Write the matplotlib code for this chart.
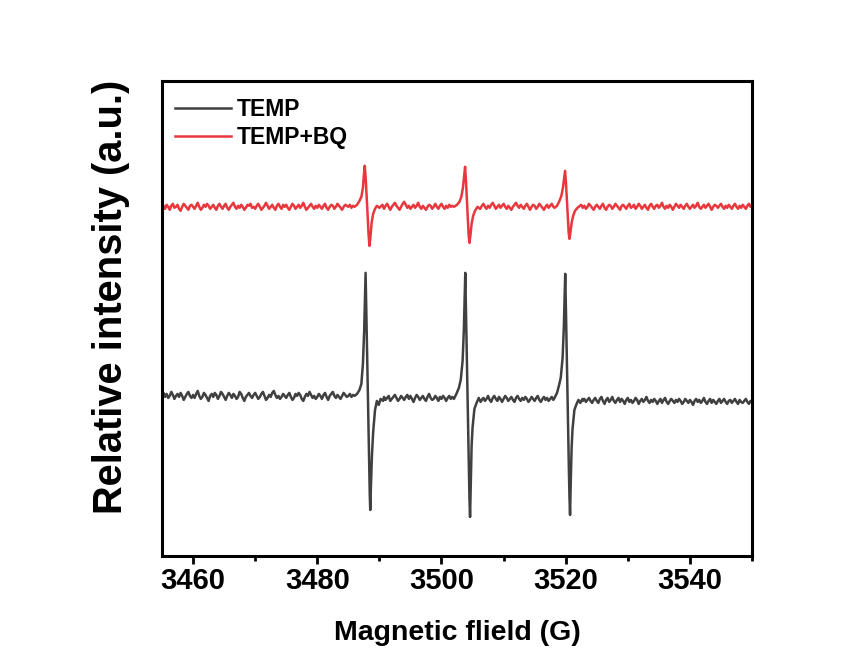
import numpy as np
import matplotlib.pyplot as plt
from matplotlib.ticker import MultipleLocator

plt.rcParams["font.family"] = "Liberation Sans"
plt.rcParams["font.weight"] = "bold"

# field axis of the baseline traces: one reading every 0.25 G, 3455 .. 3550 G
field_start = 3455.0
field_step = 0.25

# TEMP baseline readings (a.u.), 20 per row = 5 G per row
temp_base = [
    161, 163, 159, 162, 158, 160, 164, 161, 157, 160, 162, 159, 163, 160, 156, 159, 162, 164, 160, 158,
    161, 158, 162, 165, 160, 157, 159, 163, 161, 158, 155, 160, 162, 159, 163, 161, 157, 160, 164, 162,
    159, 156, 160, 163, 161, 158, 162, 160, 157, 159, 164, 162, 158, 155, 159, 161, 163, 160, 158, 161,
    163, 160, 157, 159, 162, 164, 160, 156, 158, 161, 159, 163, 165, 161, 158, 160, 157, 159, 162, 160,
    158, 161, 163, 159, 156, 158, 162, 160, 163, 161, 157, 155, 159, 162, 160, 164, 161, 158, 160, 157,
    159, 162, 160, 157, 161, 163, 159, 156, 160, 162, 164, 160, 158, 161, 159, 157, 160, 163, 161, 159,
    160, 162, 159, 161, 160, 160, 160, 160, 160, 160, 160, 160, 160, 160, 160, 160, 160, 160, 160, 160,
    157, 157, 157, 159, 156, 158, 160, 155, 157, 159, 161, 158, 155, 157, 160, 158, 156, 159, 161, 157,
    160, 157, 154, 158, 161, 159, 156, 158, 160, 157, 155, 159, 162, 158, 156, 157, 160, 158, 155, 159,
    157, 160, 158, 155, 158, 160, 157, 159, 157, 157, 157, 157, 157, 157, 157, 157, 157, 157, 157, 157,
    157, 157, 157, 157, 157, 157, 157, 158, 155, 157, 160, 156, 154, 158, 160, 157, 155, 159, 157, 154,
    157, 160, 158, 155, 157, 159, 156, 154, 158, 160, 157, 155, 158, 156, 159, 157, 154, 156, 159, 157,
    155, 158, 160, 156, 154, 157, 159, 156, 158, 155, 157, 159, 156, 157, 157, 157, 157, 157, 157, 157,
    157, 157, 157, 157, 157, 157, 157, 157, 157, 157, 157, 155, 157, 154, 156, 158, 155, 153, 156, 158,
    155, 153, 157, 159, 155, 152, 156, 158, 154, 156, 159, 155, 153, 156, 158, 154, 157, 155, 152, 156,
    158, 154, 156, 153, 155, 158, 156, 152, 155, 157, 154, 156, 159, 155, 153, 156, 154, 157, 155, 152,
    155, 157, 153, 156, 158, 154, 152, 155, 157, 155, 153, 156, 154, 157, 155, 152, 154, 157, 155, 153,
    156, 154, 151, 155, 157, 154, 156, 153, 155, 158, 154, 152, 155, 157, 153, 156, 154, 152, 155, 157,
    153, 155, 157, 154, 152, 155, 156, 153, 155, 157, 154, 152, 156, 154, 153, 155, 157, 154, 152, 155,
    154,
]

# TEMP+BQ baseline readings (a.u.)
temp_bq_base = [
    348, 350, 347, 351, 349, 346, 350, 352, 348, 349, 351, 347, 345, 349, 352, 350, 348, 346, 350, 351,
    349, 347, 350, 353, 349, 346, 348, 351, 349, 352, 350, 347, 349, 351, 348, 346, 350, 352, 349, 347,
    350, 352, 348, 346, 349, 351, 353, 349, 347, 350, 348, 351, 349, 346, 348, 351, 350, 352, 348, 349,
    347, 350, 352, 349, 346, 348, 350, 353, 350, 347, 349, 351, 348, 346, 350, 352, 349, 347, 351, 349,
    351, 348, 346, 349, 352, 350, 347, 349, 351, 348, 350, 353, 349, 346, 348, 350, 352, 349, 347, 350,
    348, 351, 349, 347, 350, 352, 348, 346, 349, 351, 350, 347, 349, 352, 350, 348, 346, 349, 351, 350,
    349, 351, 348, 350, 349, 349, 349, 349, 349, 349, 349, 349, 349, 349, 349, 349, 349, 349, 349, 349,
    349, 349, 349, 347, 350, 352, 349, 346, 349, 351, 353, 350, 348, 346, 349, 352, 354, 351, 348, 350,
    347, 349, 351, 348, 350, 353, 349, 347, 350, 348, 346, 349, 351, 350, 347, 349, 352, 349, 347, 350,
    352, 349, 347, 350, 348, 351, 349, 350, 349, 349, 349, 349, 349, 349, 349, 349, 349, 349, 349, 349,
    349, 349, 349, 349, 349, 347, 350, 352, 349, 347, 350, 348, 351, 353, 350, 347, 349, 351, 348, 350,
    352, 349, 347, 350, 348, 346, 349, 351, 353, 350, 348, 351, 349, 347, 350, 352, 349, 346, 349, 351,
    350, 347, 349, 352, 350, 348, 346, 349, 351, 348, 350, 352, 349, 349, 349, 349, 349, 349, 349, 349,
    349, 349, 349, 349, 349, 349, 349, 349, 349, 349, 351, 348, 350, 347, 349, 352, 350, 348, 346, 349,
    351, 349, 347, 350, 352, 348, 346, 349, 351, 350, 347, 349, 352, 350, 348, 346, 350, 351, 349, 347,
    350, 352, 348, 349, 351, 347, 349, 352, 350, 347, 349, 351, 348, 346, 350, 352, 349, 347, 350, 351,
    348, 350, 353, 349, 347, 350, 348, 351, 349, 346, 349, 352, 350, 348, 351, 349, 347, 350, 352, 349,
    347, 349, 351, 348, 350, 353, 349, 347, 349, 351, 348, 350, 352, 349, 346, 349, 351, 350, 348, 350,
    352, 349, 347, 350, 348, 351, 349, 347, 350, 352, 349, 347, 350, 348, 351, 349, 347, 350, 352, 349,
    350,
]

# the three hyperfine lines, traced more finely (G, a.u.)
temp_peak_x = [
    [3486.0, 3486.4, 3486.8, 3487.1, 3487.35, 3487.55, 3487.7, 3487.78, 3487.9, 3488.05,
     3488.2, 3488.35, 3488.45, 3488.53, 3488.65, 3488.8, 3489.0, 3489.3, 3489.6, 3489.9,
     3490.2, 3490.6],
    [3502.0, 3502.4, 3502.8, 3503.1, 3503.4, 3503.6, 3503.75, 3503.83, 3503.95, 3504.1,
     3504.25, 3504.4, 3504.5, 3504.6, 3504.72, 3504.85, 3505.0, 3505.3, 3505.65, 3506.0,
     3506.3, 3506.6],
    [3518.2, 3518.6, 3518.9, 3519.2, 3519.5, 3519.7, 3519.84, 3519.92, 3520.05, 3520.2,
     3520.35, 3520.5, 3520.6, 3520.7, 3520.82, 3520.95, 3521.1, 3521.4, 3521.75, 3522.05,
     3522.35, 3522.7],
]
temp_peak_y = [
    [160, 162, 166, 172, 192, 225, 262, 283, 245, 195,
     145, 95, 62, 46, 72, 100, 124, 146, 155, 151,
     157, 155],
    [157, 162, 168, 176, 195, 226, 263, 283, 243, 190,
     140, 90, 58, 39, 75, 110, 128, 147, 153, 158,
     154, 157],
    [158, 163, 170, 178, 198, 229, 264, 282, 242, 190,
     138, 90, 60, 41, 76, 108, 127, 146, 152, 156,
     153, 157],
]

temp_bq_peak_x = [
    [3486.0, 3486.4, 3486.8, 3487.1, 3487.35, 3487.52, 3487.65, 3487.8, 3487.95, 3488.1,
     3488.25, 3488.4, 3488.55, 3488.75, 3489.0, 3489.3, 3489.6, 3490.0, 3490.5],
    [3502.0, 3502.5, 3502.9, 3503.2, 3503.45, 3503.65, 3503.8, 3503.95, 3504.1, 3504.25,
     3504.38, 3504.5, 3504.65, 3504.85, 3505.1, 3505.4, 3505.8, 3506.2],
    [3518.2, 3518.6, 3519.0, 3519.3, 3519.55, 3519.75, 3519.9, 3520.05, 3520.2, 3520.35,
     3520.48, 3520.6, 3520.75, 3520.95, 3521.2, 3521.5, 3521.9, 3522.3],
]
temp_bq_peak_y = [
    [349, 351, 355, 359, 368, 382, 390, 377, 360, 342,
     322, 310, 318, 333, 342, 347, 350, 348, 351],
    [349, 351, 354, 359, 368, 380, 389, 374, 356, 336,
     320, 313, 320, 332, 340, 345, 349, 347],
    [348, 350, 355, 360, 368, 378, 385, 372, 355, 337,
     323, 317, 323, 333, 340, 345, 348, 350],
]

series_labels = ["TEMP", "TEMP+BQ"]
series_colors = ["#404040", "#E8383D"]


def merge(base, peak_x, peak_y):
    x = field_start + field_step * np.arange(len(base))
    y = np.array(base, dtype=float)
    keep = np.ones(len(x), dtype=bool)
    for px in peak_x:
        keep &= (x < min(px)) | (x > max(px))
    xs = np.concatenate([x[keep]] + [np.array(p) for p in peak_x])
    ys = np.concatenate([y[keep]] + [np.array(p, dtype=float) for p in peak_y])
    order = np.argsort(xs)
    return xs[order], ys[order]


curves = [
    merge(temp_base, temp_peak_x, temp_peak_y),
    merge(temp_bq_base, temp_bq_peak_x, temp_bq_peak_y),
]

fig = plt.figure(figsize=(8.58, 6.59), dpi=100)
ax = fig.add_axes([0.1888, 0.1563, 0.6877, 0.7212])

for (x, y), lab, col in zip(curves, series_labels, series_colors):
    ax.plot(x, y, color=col, lw=1.8, label=lab)

ax.set_xlim(3455, 3550)
ax.set_ylim(0, 475)
ax.set_xticks(range(3460, 3541, 20))
ax.xaxis.set_minor_locator(MultipleLocator(10))
ax.set_yticks([])
ax.tick_params(axis="x", which="major", direction="out", length=6, width=2,
               labelsize=21, pad=2)
ax.tick_params(axis="x", which="minor", direction="out", length=3.5, width=2)
for sp in ax.spines.values():
    sp.set_linewidth(2.2)

ax.set_xlabel("Magnetic flield (G)", fontsize=20.5, fontweight="bold")
ax.xaxis.set_label_coords(0.5, -0.135)
ax.xaxis.label.set_va("top")
ax.set_ylabel("Relative intensity (a.u.)", fontsize=28.7, fontweight="bold")
ax.yaxis.set_label_coords(-0.055, 0.546)

ax.legend(loc="upper left", bbox_to_anchor=(0.022, 0.964), frameon=False,
          fontsize=16.5, handlelength=2.45, handletextpad=0.26,
          labelspacing=0.22, borderaxespad=0, borderpad=0)

fig.savefig("out.png", dpi=100)
